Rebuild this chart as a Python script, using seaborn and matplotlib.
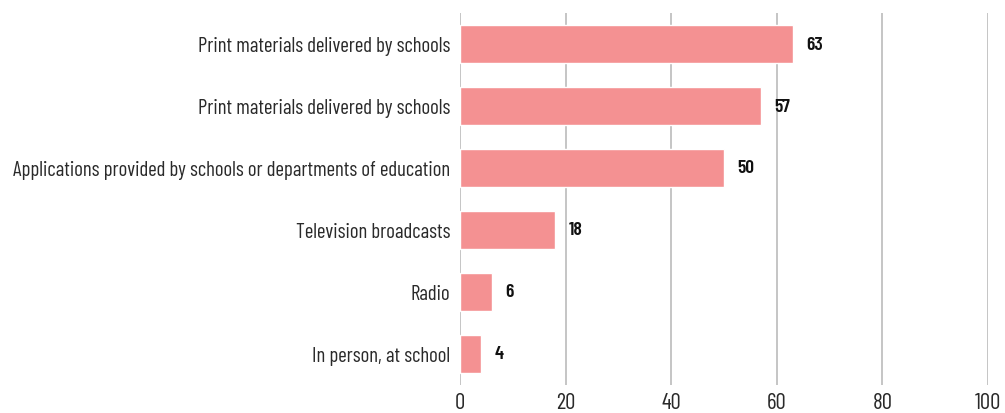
import matplotlib
matplotlib.use("Agg")
import matplotlib.pyplot as plt
import seaborn as sns
import pandas as pd

categories = [
    "Print materials delivered by schools",
    "Print materials delivered by schools",
    "Applications provided by schools or departments of education",
    "Television broadcasts",
    "Radio",
    "In person, at school",
]
values = [63, 57, 50, 18, 6, 4]
xticks = [0, 20, 40, 60, 80, 100]

sns.set_theme(style="white")
plt.rcParams["font.family"] = ["Barlow Condensed", "DejaVu Sans"]

df = pd.DataFrame({"pos": [str(i) for i in range(len(categories))], "value": values})

fig = plt.figure(figsize=(10.05, 4.14), dpi=100)
ax = fig.add_axes([460 / 1005, 1 - 386 / 414, 528 / 1005, 372 / 414])
sns.barplot(data=df, x="value", y="pos", orient="h", color="#F49192",
            saturation=1, width=0.6, ax=ax)
ax.set_xlim(0, 100)
ax.set_ylim(len(categories) - 0.5, -0.5)
ax.set_xticks(xticks)
ax.set_xticklabels([str(t) for t in xticks], fontsize=16.5, color="#2a2a2a")
ax.set_yticks(range(len(categories)))
ax.set_yticklabels(categories, fontsize=15, color="#2a2a2a")
ax.set_xlabel("")
ax.set_ylabel("")
for s in ax.spines.values():
    s.set_visible(False)
ax.grid(axis="x", color="#BBBBBB", linewidth=1.2)
ax.set_axisbelow(True)
ax.tick_params(axis="both", length=0)
ax.tick_params(axis="y", pad=7)
ax.tick_params(axis="x", pad=5)
for i, v in enumerate(values):
    ax.text(v + 2.6, i, str(v), va="center", ha="left", fontsize=14,
            fontweight="semibold", color="#111111")

fig.savefig("out.png", dpi=100)
